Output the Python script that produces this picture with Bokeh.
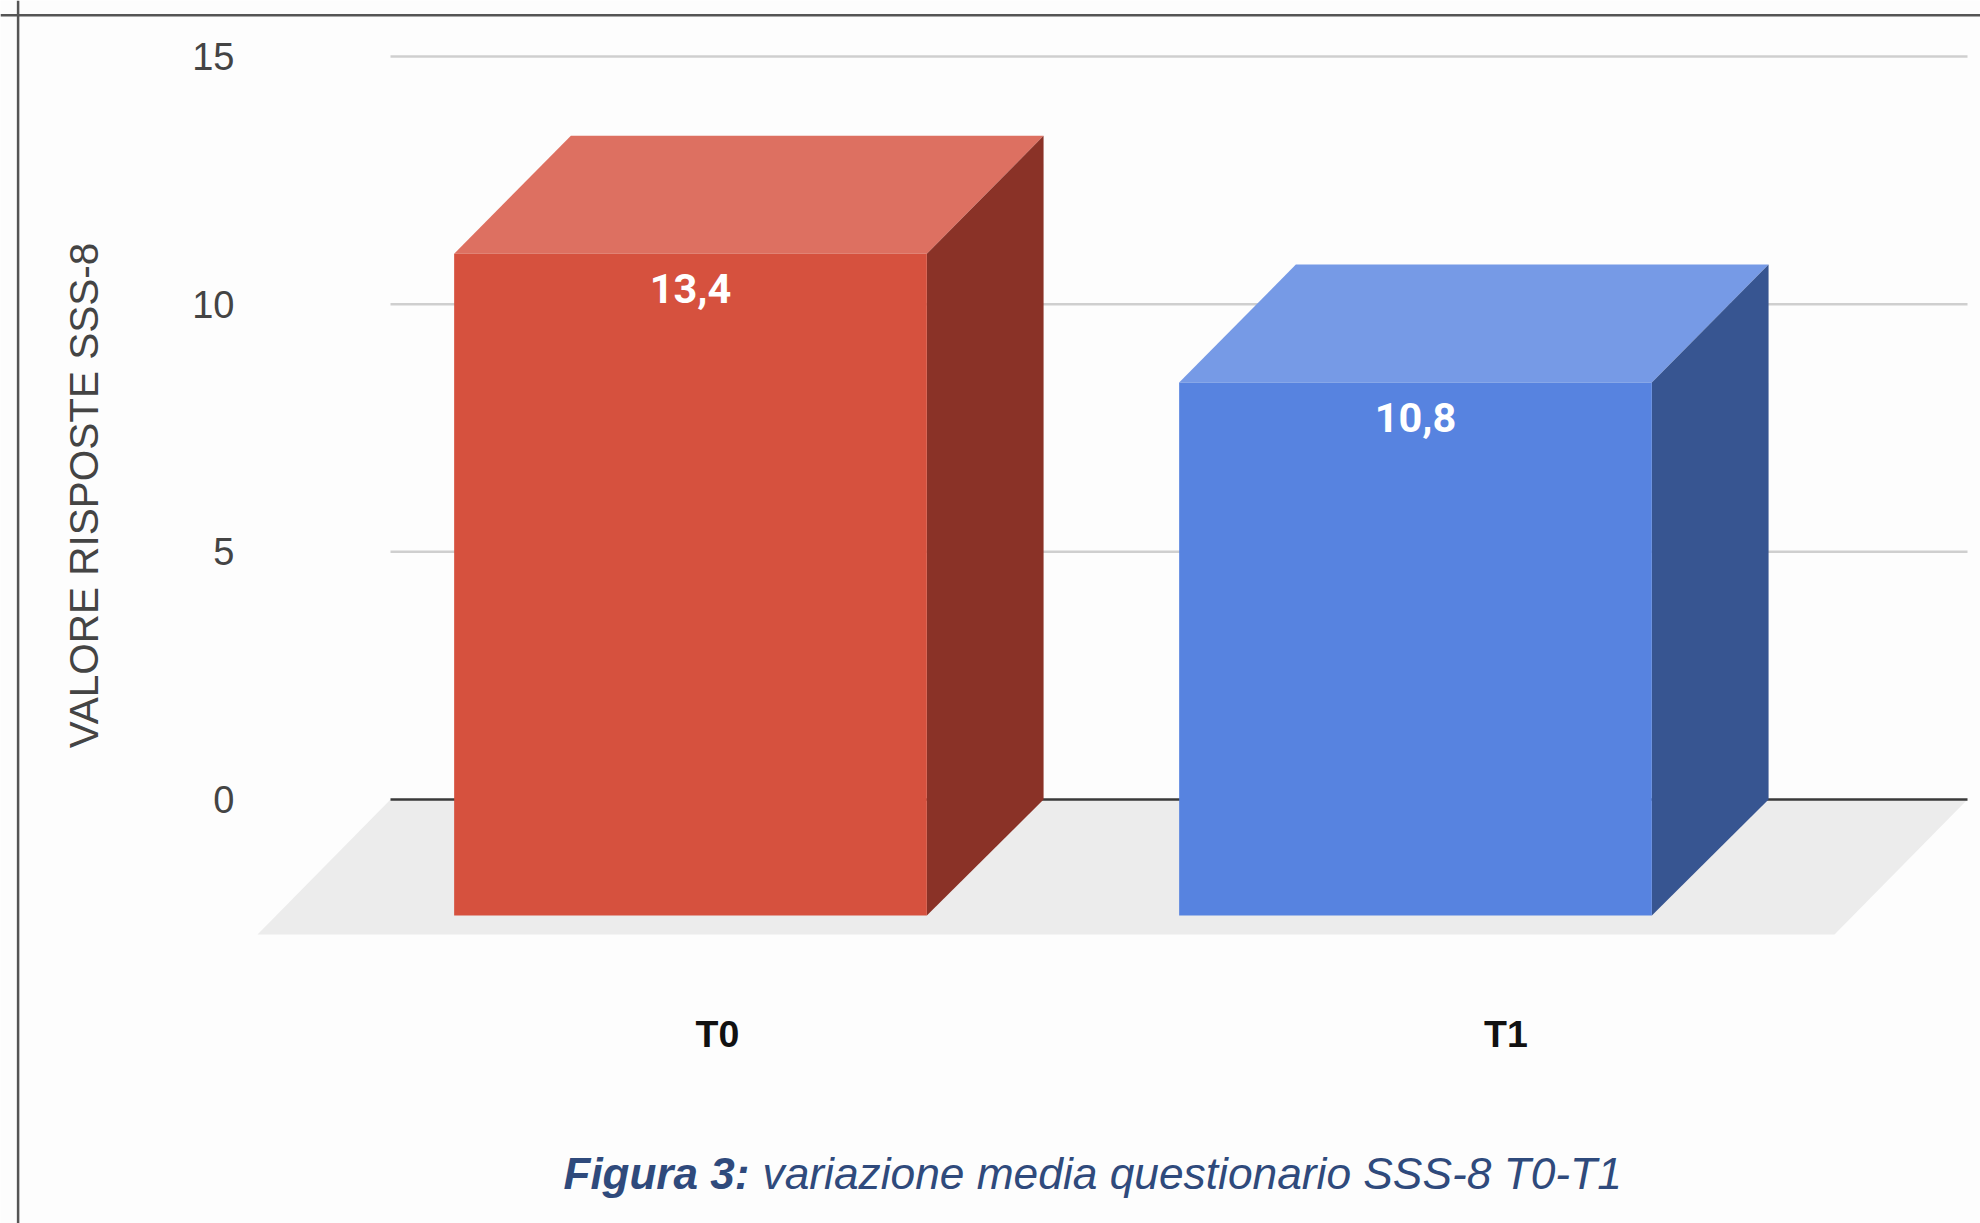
import math
from bokeh.plotting import figure
from bokeh.embed import file_html
from bokeh.resources import INLINE
from bokeh.models import Range1d, FixedTicker, Span
from bokeh.core.properties import value

categories = ["T0", "T1"]
values = [13.4, 10.8]
value_labels = ["13,4", "10,8"]
y_ticks = [0, 5, 10, 15]
y_title = "VALORE RISPOSTE SSS-8"
title_bold = "Figura 3:"
title_rest = "variazione media questionario SSS-8 T0-T1"
front_colors = ["#d6513e", "#5783e0"]
top_colors = ["#dd7061", "#769ae6"]
side_colors = ["#8a3227", "#375591"]

W, H = 1980, 1223
X0_PX, X_UNIT = 690.0, 725.0
Y0_PX, Y_UNIT = 799.0, 49.53


def dx(px):
    return (px - X0_PX) / X_UNIT


def dy(py):
    return (Y0_PX - py) / Y_UNIT


BAR_W = 0.652
DEPTH_X = 0.161
DEPTH_Y = 2.38
FRONT_BOTTOM = -2.34
FLOOR_LEFT, FLOOR_RIGHT = dx(390), dx(1967)
FLOOR_SHIFT = dx(390) - dx(257)
FLOOR_FRONT = dy(934)

p = figure(width=W, height=H, output_backend="svg", toolbar_location=None,
           x_range=Range1d(dx(0), dx(W)),
           y_range=Range1d(dy(H), dy(0)),
           min_border=0, background_fill_color="#fdfdfd",
           border_fill_color="#fdfdfd", outline_line_color=None)

# frame lines of the screenshot
p.add_layout(Span(location=dx(17.6), dimension="height", line_color="#555555", line_width=2.5))
p.add_layout(Span(location=dy(14.7), dimension="width", line_color="#555555", line_width=2.5))

# floor
p.patch([FLOOR_LEFT, FLOOR_RIGHT, FLOOR_RIGHT - FLOOR_SHIFT, FLOOR_LEFT - FLOOR_SHIFT],
        [0, 0, FLOOR_FRONT, FLOOR_FRONT], fill_color="#ececec", line_color=None)

# grid
grid_y = [t for t in y_ticks if t != 0]
p.segment([FLOOR_LEFT] * 3, grid_y, [FLOOR_RIGHT] * 3, grid_y, line_color="#cfcfcf", line_width=2.5)
p.segment([FLOOR_LEFT], [0], [FLOOR_RIGHT], [0], line_color="#3a3a3a", line_width=2.5)

# 3D bars
for i, v in enumerate(values):
    l, r = i - BAR_W / 2, i + BAR_W / 2
    ft, fb = v - DEPTH_Y, FRONT_BOTTOM
    p.patch([l, r, r + DEPTH_X, l + DEPTH_X], [ft, ft, v, v],
            fill_color=top_colors[i], line_color=None)
    p.patch([r, r + DEPTH_X, r + DEPTH_X, r], [ft, v, 0, fb],
            fill_color=side_colors[i], line_color=None)
    p.patch([l, r, r, l], [ft, ft, fb, fb], fill_color=front_colors[i], line_color=None)

p.text(x=list(range(len(values))), y=[v - DEPTH_Y - 0.70 for v in values], text=value_labels,
       text_color="#ffffff", text_font=value("Roboto"), text_font_style="bold",
       text_font_size="41.5px", text_align="center", text_baseline="middle")

# axes
p.grid.visible = False
yaxis = p.yaxis[0]
yaxis.fixed_location = dx(244)
yaxis.ticker = FixedTicker(ticks=y_ticks)
yaxis.axis_line_color = None
yaxis.major_tick_line_color = None
yaxis.minor_tick_line_color = None
yaxis.major_label_standoff = 4
yaxis.major_label_text_font = "Liberation Sans"
yaxis.major_label_text_font_size = "38px"
yaxis.major_label_text_color = "#444444"

p.text(x=[dx(83)], y=[dy(495)], text=[y_title], angle=math.pi / 2,
       text_color="#444444", text_font=value("Liberation Sans"),
       text_font_size="40.5px", text_align="center", text_baseline="middle")

xaxis = p.xaxis[0]
xaxis.fixed_location = dy(1001)
xaxis.ticker = FixedTicker(ticks=[dx(717), dx(1505.5)])
xaxis.major_label_overrides = {dx(717): categories[0], dx(1505.5): categories[1]}
xaxis.axis_line_color = None
xaxis.major_tick_line_color = None
xaxis.minor_tick_line_color = None
xaxis.major_label_text_font = "Liberation Sans"
xaxis.major_label_text_font_style = "bold"
xaxis.major_label_text_font_size = "37.5px"
xaxis.major_label_text_color = "#111111"

# caption
p.text(x=[dx(563)], y=[dy(1173)], text=[title_bold], text_color="#2f4a7c",
       text_font=value("Liberation Sans"), text_font_style="bold italic",
       text_font_size="44px", text_align="left", text_baseline="middle")
p.text(x=[dx(762)], y=[dy(1173)], text=[title_rest], text_color="#2f4a7c",
       text_font=value("Liberation Sans"), text_font_style="italic",
       text_font_size="44.3px", text_align="left", text_baseline="middle")

open("out.html", "w").write(file_html(p, INLINE))
